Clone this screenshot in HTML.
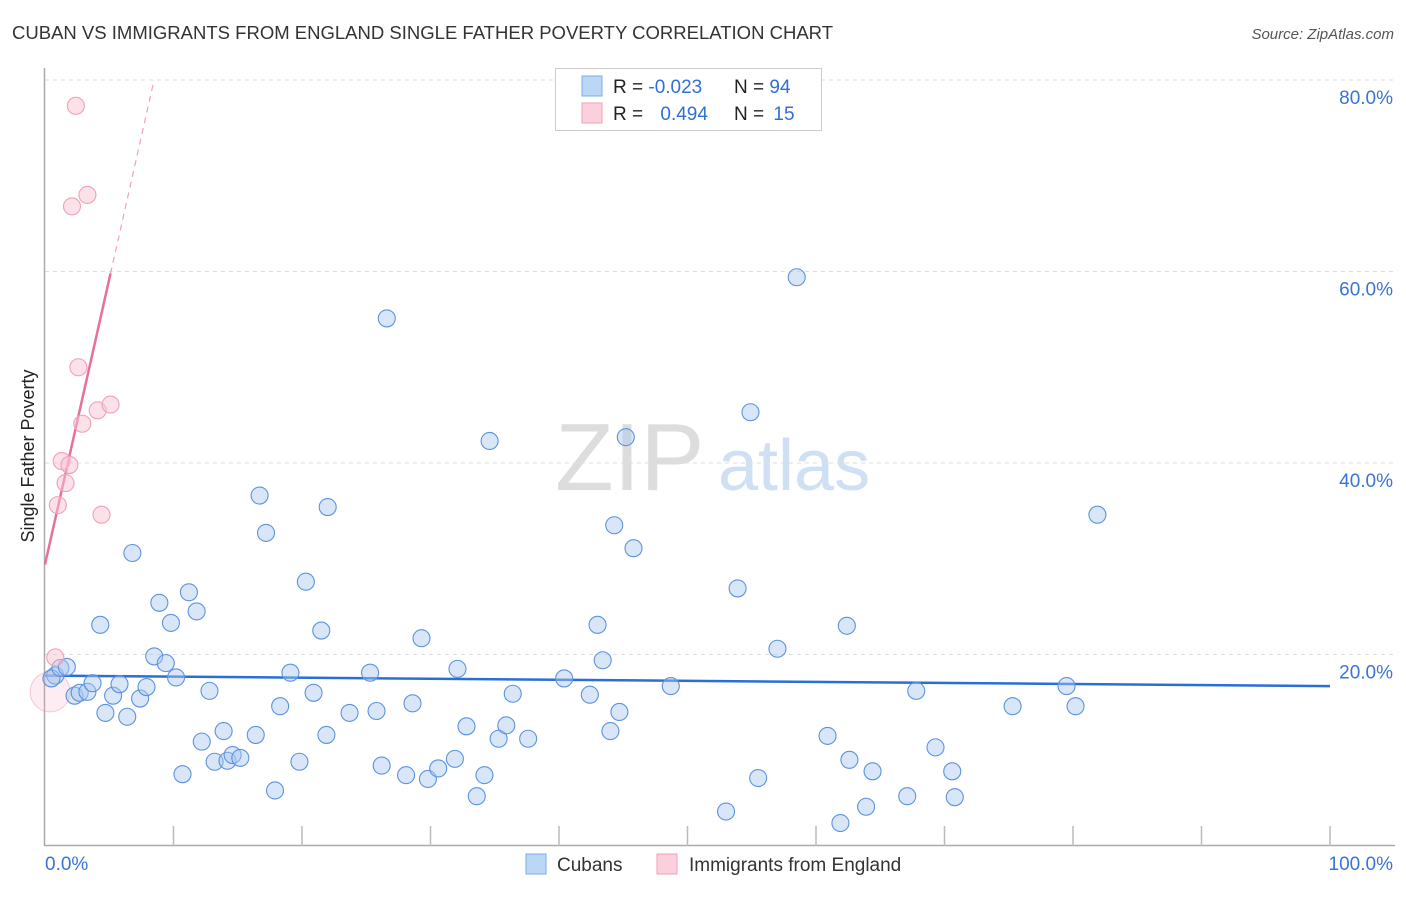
<!DOCTYPE html>
<html><head><meta charset="utf-8"><style>
body{margin:0;background:#fff;font-family:"Liberation Sans",sans-serif}
svg text{font-family:"Liberation Sans",sans-serif}
</style></head><body>
<svg width="1406" height="892" viewBox="0 0 1406 892" id="svg">
<text x="12" y="39" font-size="18" fill="#333" textLength="821" lengthAdjust="spacingAndGlyphs">CUBAN VS IMMIGRANTS FROM ENGLAND SINGLE FATHER POVERTY CORRELATION CHART</text>
<text x="1394" y="39" font-size="15" fill="#555" font-style="italic" text-anchor="end">Source: ZipAtlas.com</text>
<text x="0" y="0" font-size="18" fill="#222" transform="translate(34,456) rotate(-90)" text-anchor="middle">Single Father Poverty</text>
<text x="555" y="490" font-size="96" fill="#ddd" font-family="Liberation Serif">ZIP</text>
<text x="718" y="490" font-size="72" fill="#cfe0f5">atlas</text>
<g id="grid"></g><g id="axes"></g><g id="trend"></g><g id="pts"></g>
<g>
<rect x="555.5" y="68.5" width="266" height="62" fill="#fff" stroke="#ccc"/>
<rect x="582" y="76" width="20" height="20" fill="#bcd6f5" stroke="#7aaee8"/>
<rect x="582" y="103" width="20" height="20" fill="#fbd0dc" stroke="#f0a0b8"/>
<text x="613" y="93" font-size="19" fill="#222">R = <tspan fill="#2f6fd6">-0.023</tspan></text>
<text x="734" y="93" font-size="19" fill="#222">N = <tspan fill="#2f6fd6">94</tspan></text>
<text x="613" y="120" font-size="19" fill="#222">R = <tspan fill="#2f6fd6" dx="12">0.494</tspan></text>
<text x="734" y="120" font-size="19" fill="#222">N = <tspan fill="#2f6fd6" dx="4">15</tspan></text>
</g>
<g>
<rect x="526" y="854" width="20" height="20" fill="#bcd6f5" stroke="#7aaee8"/>
<text x="557" y="871" font-size="19" fill="#333">Cubans</text>
<rect x="657" y="854" width="20" height="20" fill="#fbd0dc" stroke="#f0a0b8"/>
<text x="689" y="871" font-size="19" fill="#333">Immigrants from England</text>
</g>
</svg>
<script>
const yTicks=[20,40,60,80];
const xTickLabels=["0.0%","100.0%"];
const cubanX=[0.8,0.5,1.2,1.7,2.3,2.7,3.3,3.7,4.3,4.7,5.3,5.8,6.4,6.8,7.4,7.9,8.5,8.9,9.4,9.8,10.2,10.7,11.2,11.8,12.2,12.8,13.2,13.9,14.2,14.6,15.2,16.4,16.7,17.2,17.9,18.3,19.1,19.8,20.3,20.9,21.5,21.9,22.0,23.7,25.3,25.8,26.2,26.6,28.1,28.6,29.3,29.8,30.6,31.9,32.1,32.8,33.6,34.2,34.6,35.3,35.9,36.4,37.6,40.4,42.4,43.0,43.4,44.0,44.3,44.7,45.2,45.8,48.7,53.0,53.9,54.9,55.5,57.0,58.5,60.9,61.9,62.4,62.6,63.9,64.4,67.1,67.8,69.3,70.6,70.8,75.3,79.5,80.2,81.9];
const cubanY=[17.8,17.5,18.6,18.7,15.7,16.0,16.1,17.0,23.1,13.9,15.7,16.9,13.5,30.6,15.4,16.6,19.8,25.4,19.1,23.3,17.6,7.5,26.5,24.5,10.9,16.2,8.8,12.0,8.9,9.5,9.2,11.6,36.6,32.7,5.8,14.6,18.1,8.8,27.6,16.0,22.5,11.6,35.4,13.9,18.1,14.1,8.4,55.1,7.4,14.9,21.7,7.0,8.1,9.1,18.5,12.5,5.2,7.4,42.3,11.2,12.6,15.9,11.2,17.5,15.8,23.1,19.4,12.0,33.5,14.0,42.7,31.1,16.7,3.6,26.9,45.3,7.1,20.6,59.4,11.5,2.4,23.0,9.0,4.1,7.8,5.2,16.2,10.3,7.8,5.1,14.6,16.7,14.6,34.6];
const engX=[0.8,2.4,2.1,3.3,2.6,2.9,4.1,5.1,1.3,1.9,1.6,1.0,4.4,0.4];
const engY=[19.7,77.3,66.8,68.0,50.0,44.1,45.5,46.1,40.2,39.8,37.9,35.6,34.6,16.3];
const cubanTrend=[17.8,16.7];
const engTrend=[29.4,59.8];
const NS="http://www.w3.org/2000/svg";
const X0=45,X1=1330,Y0=846,YS=9.575;
const sx=v=>X0+(X1-X0)*v/100, sy=v=>Y0-v*YS;
function mk(t,a,p){const e=document.createElementNS(NS,t);for(const k in a)e.setAttribute(k,a[k]);p.appendChild(e);return e;}
const g=document.getElementById('grid'),ax=document.getElementById('axes'),tr=document.getElementById('trend'),pt=document.getElementById('pts');
yTicks.forEach(v=>{
 const l=mk('line',{x1:45,x2:1395,y1:sy(v),y2:sy(v),stroke:'#ddd','stroke-dasharray':'4,4'},g);
 
 
 const t=mk('text',{x:1393,y:sy(v)+24,'font-size':19,fill:'#3a74d6','text-anchor':'end'},g);
 t.textContent=v.toFixed(1)+'%';
 
 
});
mk('line',{x1:44.5,x2:44.5,y1:68,y2:846,stroke:'#aaa','stroke-width':1.5},ax);
mk('line',{x1:44,x2:1395,y1:845.5,y2:845.5,stroke:'#aaa','stroke-width':1.5},ax);
for(let i=1;i<=10;i++){mk('line',{x1:sx(i*10),x2:sx(i*10),y1:826,y2:846,stroke:'#bbb','stroke-width':1.5},ax);}
const xl0=mk('text',{x:45,y:870,'font-size':19,fill:'#3a74d6'},ax);xl0.textContent=xTickLabels[0];


const xl1=mk('text',{x:1393,y:870,'font-size':19,fill:'#3a74d6','text-anchor':'end'},ax);xl1.textContent=xTickLabels[1];


const big1=mk('circle',{cx:sx(0.4),cy:sy(16.3)+2,r:20,fill:'rgba(247,170,195,0.22)',stroke:'rgba(240,140,170,0.45)'},pt);


cubanX.forEach((x,i)=>{
 const c=mk('circle',{cx:sx(x),cy:sy(cubanY[i]),r:8.5,fill:'rgba(170,200,240,0.45)',stroke:'#5b93e0','stroke-width':1.1},pt);
 
 
});
engX.forEach((x,i)=>{
 if(i===13)return;
 const c=mk('circle',{cx:sx(x),cy:sy(engY[i]),r:8.5,fill:'rgba(250,195,212,0.5)',stroke:'#f0a0b8','stroke-width':1.1},pt);
 
 
});
const bl=mk('line',{x1:sx(0),x2:sx(100),y1:sy(cubanTrend[0]),y2:sy(cubanTrend[1]),stroke:'#2a6fd6','stroke-width':2.5},tr);


const slope=(engTrend[1]-engTrend[0])/5.1;
const pl=mk('line',{x1:sx(0),x2:sx(5.1),y1:sy(engTrend[0]),y2:sy(engTrend[1]),stroke:'#e8709a','stroke-width':2.5},tr);


const xe=(80-engTrend[0])/slope;
const pd=mk('line',{x1:sx(5.1),x2:sx(xe),y1:sy(engTrend[1]),y2:sy(80),stroke:'#f0a0b8','stroke-width':1.2,'stroke-dasharray':'6,5'},tr);


</script>
</body></html>
